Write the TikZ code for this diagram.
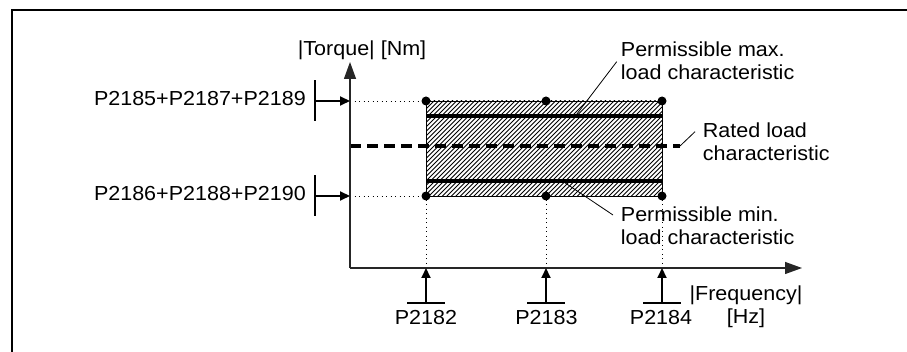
\documentclass[tikz,border=0pt]{standalone}
\usepackage{fontspec}
\setmainfont[FakeStretch=1.06]{Liberation Sans}
\usetikzlibrary{arrows.meta}
\tikzset{
  frame/.style={draw=black,line width=2pt},
  axis/.style={draw=black!85,line width=1.3pt,-{Triangle[length=17pt,width=12pt]}},
  feed/.style={draw=black,line width=2pt,-{Triangle[length=10pt,width=9pt]}},
  bar/.style={draw=black,line width=2pt},
  limit/.style={draw=black,line width=4pt},
  rated/.style={draw=black,line width=4pt,dash pattern=on 11pt off 6pt},
  guide/.style={draw=black,line width=0.9pt,dash pattern=on 1pt off 3.5pt},
  hatch/.style={draw=black,line width=0.8pt},
  lead/.style={draw=black,line width=0.8pt},
}
\tikzset{dot/.style={circle,fill=black,inner sep=0pt,minimum size=9pt}, lab/.style={inner sep=0pt,font=\fontsize{20.3}{23.3}\selectfont}}

\begin{document}
\begin{tikzpicture}[x=1pt,y=-1pt]
\useasboundingbox (0,0) rectangle (907,352);
\draw[frame] (12,352) -- (12,10) -- (907,10);
% axes
\coordinate (org) at (350,268);
\coordinate (ytop) at (350,62);
\coordinate (xend) at (802,268);
% corner points of the band
\coordinate (ga) at (426,101);
\coordinate (gb) at (546,101);
\coordinate (gc) at (662,101);
\coordinate (ha) at (426,196);
\coordinate (hb) at (546,196);
\coordinate (hc) at (662,196);
\coordinate (fa) at (426,268);
\coordinate (fb) at (546,268);
\coordinate (fc) at (662,268);
\coordinate (pa) at (426,303);
\coordinate (pb) at (546,303);
\coordinate (pc) at (662,303);
\coordinate (ta) at (350,101);
\coordinate (tb) at (350,196);
\coordinate (sa) at (315,101);
\coordinate (sb) at (315,196);
\coordinate (mx1) at (426,116.5);
\coordinate (mx2) at (662,116.5);
\coordinate (mn1) at (426,181.5);
\coordinate (mn2) at (662,181.5);
\coordinate (rt1) at (350,146);
\coordinate (rt2) at (680,146);
% hatched band
\begin{scope}
\clip (ga) rectangle (hc);
\foreach \k in {0,4.5,...,340}
  \draw[hatch] (\k+326,200) -- (\k+426,100);
\end{scope}
\draw[line width=0.9pt] (ga) rectangle (hc);
\draw[guide] (ta) -- (ga);
\draw[guide] (tb) -- (ha);
\draw[guide] (ga) -- (fa);
\draw[guide] (gb) -- (fb);
\draw[guide] (gc) -- (fc);
\draw[limit] (mx1) -- (mx2);
\draw[limit] (mn1) -- (mn2);
\draw[rated] (rt1) -- (rt2);
\draw[axis] (org) -- (ytop);
\draw[axis] (org) -- (xend);
\node[dot] (da) at (ga) {};
\node[dot] (db) at (gb) {};
\node[dot] (dc) at (gc) {};
\node[dot] (ea) at (ha) {};
\node[dot] (eb) at (hb) {};
\node[dot] (ec) at (hc) {};
% torque limits
\draw[bar] ([yshift=20.5pt]sa) -- ([yshift=-20.5pt]sa);
\draw[bar] ([yshift=20.5pt]sb) -- ([yshift=-20.5pt]sb);
\draw[feed] (sa) -- (ta);
\draw[feed] (sb) -- (tb);
% frequency points
\draw[bar] ([xshift=-19pt]pa) -- ([xshift=19pt]pa);
\draw[bar] ([xshift=-19pt]pb) -- ([xshift=19pt]pb);
\draw[bar] ([xshift=-19pt]pc) -- ([xshift=19pt]pc);
\draw[feed] (pa) -- (fa);
\draw[feed] (pb) -- (fb);
\draw[feed] (pc) -- (fc);
% labels
\node[lab,anchor=base] (torque) at (362,55.5) {|Torque| [Nm]};
\node[lab,anchor=base east] (uplim) at (306,106) {P2185+P2187+P2189};
\node[lab,anchor=base east] (lolim) at (306,201) {P2186+P2188+P2190};
\node[lab,anchor=base] (fqa) at (426,325) {P2182};
\node[lab,anchor=base] (fqb) at (546.5,325) {P2183};
\node[lab,anchor=base] (fqc) at (661,325) {P2184};
\node[lab,align=center,anchor=base] (freq) at (746,323.5) {|Frequency|\\{[Hz]}};
\node[lab,align=left,anchor=base west] (maxlab) at (620.7,80) {Permissible max.\\load characteristic};
\node[lab,align=left,anchor=base west] (ratlab) at (702.7,160.5) {Rated load\\characteristic};
\node[lab,align=left,anchor=base west] (minlab) at (620.7,245) {Permissible min.\\load characteristic};
% leaders
\coordinate (lmx) at (616.7,61.7);
\coordinate (lrt) at (695,131.7);
\coordinate (lmn) at (613,215);
\draw[lead] (lmx) -- (575,116.5);
\draw[lead] (lrt) -- (rt2);
\draw[lead] (lmn) -- (563,181.5);
\end{tikzpicture}
\end{document}
